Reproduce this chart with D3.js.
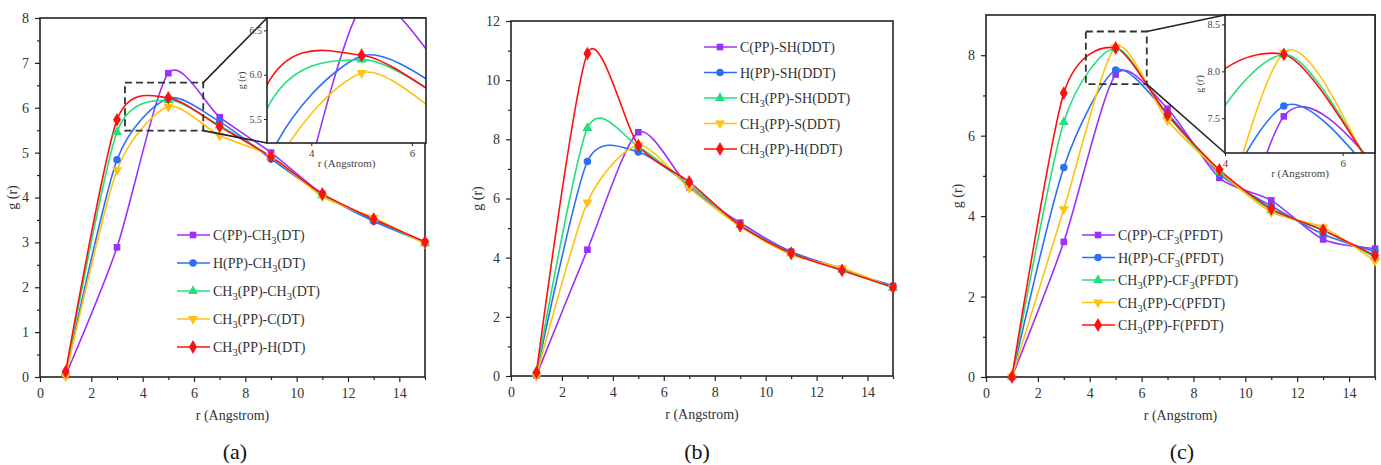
<!DOCTYPE html>
<html>
<head>
<meta charset="utf-8">
<script src="https://cdn.jsdelivr.net/npm/d3@7"></script>
<style>
  body { margin: 0; background: #fff; }
  svg { display: block; font-family: "Liberation Serif", "DejaVu Serif", serif; }
</style>
</head>
<body>
<svg id="canvas" width="1381" height="465"></svg>
<script>
// r values shared by every series
let rValues = [1, 3, 5, 7, 9, 11, 13, 15]

let colors = ['#9B30FF', '#2A6FF5', '#22E07A', '#FFC20E', '#FF1010']
let symbols = ['square', 'circle', 'triangle', 'triangleDown', 'diamond']

// (a) DT
let labelsA = ['C(PP)-CH_3(DT)', 'H(PP)-CH_3(DT)', 'CH_3(PP)-CH_3(DT)', 'CH_3(PP)-C(DT)', 'CH_3(PP)-H(DT)']
let seriesA = [
    [0.04, 2.89, 6.77, 5.79, 5.00, 4.08, 3.50, 3.00],
    [0.06, 4.84, 6.21, 5.69, 4.86, 4.07, 3.47, 3.00],
    [0.08, 5.46, 6.17, 5.60, 4.90, 4.05, 3.52, 2.98],
    [0.02, 4.61, 6.02, 5.38, 4.92, 4.02, 3.55, 2.97],
    [0.12, 5.73, 6.22, 5.58, 4.91, 4.08, 3.52, 3.01]
]

// (b) DDT
let labelsB = ['C(PP)-SH(DDT)', 'H(PP)-SH(DDT)', 'CH_3(PP)-SH(DDT)', 'CH_3(PP)-S(DDT)', 'CH_3(PP)-H(DDT)']
let seriesB = [
    [0.02, 4.27, 8.24, 6.38, 5.18, 4.20, 3.62, 3.00],
    [0.06, 7.25, 7.57, 6.45, 5.10, 4.20, 3.58, 3.05],
    [0.08, 8.38, 7.75, 6.45, 5.10, 4.15, 3.60, 2.98],
    [0.00, 5.87, 7.80, 6.35, 5.05, 4.10, 3.65, 2.98],
    [0.12, 10.90, 7.79, 6.56, 5.08, 4.15, 3.57, 3.00]
]

// (c) PFDT
let labelsC = ['C(PP)-CF_3(PFDT)', 'H(PP)-CF_3(PFDT)', 'CH_3(PP)-CF_3(PFDT)', 'CH_3(PP)-C(PFDT)', 'CH_3(PP)-F(PFDT)']
let seriesC = [
    [0.00, 3.36, 7.52, 6.67, 4.95, 4.39, 3.42, 3.19],
    [0.00, 5.21, 7.63, 6.55, 5.05, 4.25, 3.55, 3.12],
    [0.00, 6.34, 8.18, 6.50, 5.10, 4.15, 3.65, 2.98],
    [0.00, 4.17, 8.20, 6.38, 5.12, 4.10, 3.72, 2.88],
    [0.00, 7.06, 8.18, 6.52, 5.15, 4.18, 3.65, 3.02]
]

let canvas = d3.select('#canvas')

let symbolType = (name) => {
    if (name === 'square') return d3.symbolSquare
    if (name === 'circle') return d3.symbolCircle
    if (name === 'diamond') return d3.symbolDiamond
    return d3.symbolTriangle
}

let drawMarker = (g, name, x, y, color) => {
    g.append('path')
        .attr('d', d3.symbol().type(symbolType(name)).size(name === 'diamond' ? 55 : 44)())
        .attr('transform', 'translate(' + x + ',' + y + ')' + (name === 'triangleDown' ? ' rotate(180)' : ''))
        .attr('fill', color)
}

// text with "_3" style subscripts
let addLabel = (text, label, size) => {
    let lowered = false
    label.split(/(_\d)/).forEach((p) => {
        if (!p.length) return
        if (p.startsWith('_')) {
            text.append('tspan').text(p.slice(1))
                .attr('font-size', size * 0.75).attr('dy', lowered ? 0 : 4)
            lowered = true
        } else {
            text.append('tspan').text(p).attr('dy', lowered ? -4 : 0)
            lowered = false
        }
    })
}

let drawCurves = (g, x, y, series) => {
    let line = d3.line()
        .x((d, i) => x(rValues[i]))
        .y((d) => y(d))
        .curve(d3.curveCardinal.tension(0.25))
    series.forEach((s, k) => {
        g.append('path')
            .attr('d', line(s))
            .attr('fill', 'none')
            .attr('stroke', colors[k])
            .attr('stroke-width', 1.6)
    })
}

let drawPanel = (p) => {
    let g = canvas.append('g')
    let x = d3.scaleLinear().domain([0, 15]).range([p.left, p.right])
    let y = d3.scaleLinear().domain([0, p.ymax]).range([p.bottom, p.top])

    // minor ticks first
    g.append('g').attr('transform', 'translate(0,' + p.bottom + ')')
        .call(d3.axisBottom(x).tickValues(d3.range(1, 16, 2)).tickSize(3).tickFormat(''))
    g.append('g').attr('transform', 'translate(' + p.left + ',0)')
        .call(d3.axisLeft(y).tickValues(d3.range(p.ystep / 2, p.ymax, p.ystep)).tickSize(3).tickFormat(''))

    g.append('g').attr('transform', 'translate(0,' + p.bottom + ')')
        .call(d3.axisBottom(x).tickValues(d3.range(0, 16, 2)).tickSize(5).tickPadding(6))
    g.append('g').attr('transform', 'translate(' + p.left + ',0)')
        .call(d3.axisLeft(y).tickValues(d3.range(0, p.ymax + 0.01, p.ystep)).tickSize(5).tickPadding(6))
    g.selectAll('.domain').remove()
    g.selectAll('.tick line').attr('stroke', '#222').attr('stroke-width', 1.2)
    g.selectAll('.tick text').attr('font-size', 14).attr('fill', '#333').attr('font-family', '"Liberation Serif", serif')

    // frame
    g.append('rect')
        .attr('x', p.left).attr('y', p.top)
        .attr('width', p.right - p.left).attr('height', p.bottom - p.top)
        .attr('fill', 'none').attr('stroke', '#222').attr('stroke-width', 1.6)

    g.append('text').text('r (Angstrom)')
        .attr('x', (p.left + p.right) / 2).attr('y', p.bottom + 43)
        .attr('text-anchor', 'middle').attr('font-size', 14).attr('fill', '#333')
    g.append('text').text('g (r)')
        .attr('transform', 'translate(' + p.ylabelX + ',' + (p.top + p.bottom) / 2 + ') rotate(-90)')
        .attr('text-anchor', 'middle').attr('font-size', 14).attr('fill', '#333')
    g.append('text').text(p.tag)
        .attr('x', p.tagX).attr('y', 459)
        .attr('text-anchor', 'middle').attr('font-size', 22).attr('fill', '#111')

    let clipId = 'clip' + p.tag.replace(/\W/g, '')
    g.append('clipPath').attr('id', clipId).append('rect')
        .attr('x', p.left).attr('y', p.top)
        .attr('width', p.right - p.left).attr('height', p.bottom - p.top)
    let plot = g.append('g').attr('clip-path', 'url(#' + clipId + ')')
    drawCurves(plot, x, y, p.series)
    p.series.forEach((s, k) => {
        s.forEach((v, i) => drawMarker(g, symbols[k], x(rValues[i]), y(v), colors[k]))
    })

    // legend
    p.labels.forEach((lab, k) => {
        let ly = p.legY + k * p.legStep
        g.append('line').attr('x1', p.legX).attr('x2', p.legX + 33)
            .attr('y1', ly).attr('y2', ly).attr('stroke', colors[k]).attr('stroke-width', 1.6)
        drawMarker(g, symbols[k], p.legX + 16, ly, colors[k])
        let t = g.append('text').attr('x', p.legX + 36).attr('y', ly + 5)
            .attr('font-size', 14).attr('fill', '#333')
        addLabel(t, lab, 14)
    })

    if (p.inset) drawInset(g, x, y, p)
}

let drawInset = (g, x, y, p) => {
    let ins = p.inset
    let bx0 = x(ins.box[0]), bx1 = x(ins.box[1]), by0 = y(ins.box[3]), by1 = y(ins.box[2])
    g.append('rect').attr('x', bx0).attr('y', by0)
        .attr('width', bx1 - bx0).attr('height', by1 - by0)
        .attr('fill', 'none').attr('stroke', '#333').attr('stroke-width', 1.8)
        .attr('stroke-dasharray', '7,4')
    g.append('line').attr('x1', bx1).attr('y1', by0).attr('x2', ins.left).attr('y2', ins.top)
        .attr('stroke', '#222').attr('stroke-width', 1.6)
    g.append('line').attr('x1', bx1).attr('y1', by1).attr('x2', ins.left).attr('y2', ins.bottom)
        .attr('stroke', '#222').attr('stroke-width', 1.6)

    let ix = d3.scaleLinear().domain(ins.xd).range([ins.left, ins.right])
    let iy = d3.scaleLinear().domain(ins.yd).range([ins.bottom, ins.top])
    g.append('rect').attr('x', ins.left).attr('y', ins.top)
        .attr('width', ins.right - ins.left).attr('height', ins.bottom - ins.top)
        .attr('fill', '#fff')

    let clipId = 'clipInset' + p.tag.replace(/\W/g, '')
    g.append('clipPath').attr('id', clipId).append('rect')
        .attr('x', ins.left).attr('y', ins.top)
        .attr('width', ins.right - ins.left).attr('height', ins.bottom - ins.top)
    let plot = g.append('g').attr('clip-path', 'url(#' + clipId + ')')
    drawCurves(plot, ix, iy, p.series)
    p.series.forEach((s, k) => {
        s.forEach((v, i) => drawMarker(plot, symbols[k], ix(rValues[i]), iy(v), colors[k]))
    })

    let ax = g.append('g').attr('transform', 'translate(0,' + ins.bottom + ')')
        .call(d3.axisBottom(ix).tickValues(ins.xt).tickSize(3).tickPadding(3).tickFormat(d3.format('d')))
    let ay = g.append('g').attr('transform', 'translate(' + ins.left + ',0)')
        .call(d3.axisLeft(iy).tickValues(ins.yt).tickSize(3).tickPadding(2).tickFormat(d3.format('.1f')))
    ax.select('.domain').remove()
    ay.select('.domain').remove()
    g.selectAll('.tick line').attr('stroke', '#222')
    ax.selectAll('.tick text').attr('font-size', 11).attr('fill', '#444').attr('font-family', '"Liberation Serif", serif')
    ay.selectAll('.tick text').attr('font-size', 10).attr('fill', '#444').attr('font-family', '"Liberation Serif", serif')

    g.append('rect').attr('x', ins.left).attr('y', ins.top)
        .attr('width', ins.right - ins.left).attr('height', ins.bottom - ins.top)
        .attr('fill', 'none').attr('stroke', '#222').attr('stroke-width', 1.6)
    g.append('text').text('r (Angstrom)')
        .attr('x', (ins.left + ins.right) / 2).attr('y', ins.bottom + 24)
        .attr('text-anchor', 'middle').attr('font-size', 11).attr('fill', '#444')
    g.append('text').text('g (r)')
        .attr('transform', 'translate(' + (ins.left - 22) + ',' + (ins.top + ins.bottom) / 2 + ') rotate(-90)')
        .attr('text-anchor', 'middle').attr('font-size', 10).attr('fill', '#444')
}

drawPanel({
    tag: '(a)', tagX: 235, left: 40, right: 425, top: 18, bottom: 377,
    ymax: 8, ystep: 1, ylabelX: 17,
    series: seriesA, labels: labelsA, legX: 177, legY: 235, legStep: 28,
    inset: {
        left: 267, right: 426, top: 18, bottom: 143,
        xd: [3.12, 6.28], yd: [5.23, 6.64], xt: [4, 6], yt: [5.5, 6.0, 6.5],
        box: [3.31, 6.36, 5.49, 6.56]
    }
})

drawPanel({
    tag: '(b)', tagX: 697, left: 511, right: 893, top: 21, bottom: 376,
    ymax: 12, ystep: 2, ylabelX: 482,
    series: seriesB, labels: labelsB, legX: 704, legY: 47, legStep: 25.5
})

drawPanel({
    tag: '(c)', tagX: 1182, left: 986, right: 1375, top: 15, bottom: 377,
    ymax: 9, ystep: 2, ylabelX: 962,
    series: seriesC, labels: labelsC, legX: 1082, legY: 235, legStep: 22.5,
    inset: {
        left: 1225, right: 1375, top: 15, bottom: 153,
        xd: [4, 6.55], yd: [7.13, 8.6], xt: [4, 6], yt: [7.5, 8.0, 8.5],
        box: [3.85, 6.2, 7.28, 8.59]
    }
})
</script>
</body>
</html>
